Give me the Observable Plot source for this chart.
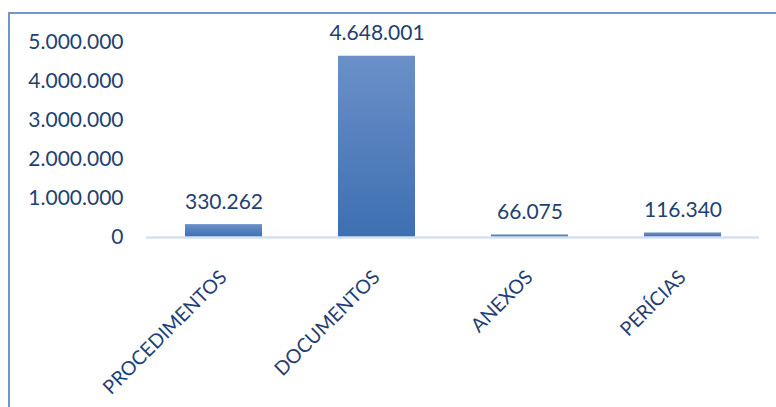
<!DOCTYPE html>
<html>
<head>
<meta charset="utf-8">
<script src="https://cdn.jsdelivr.net/npm/d3@7"></script>
<script src="https://cdn.jsdelivr.net/npm/@observablehq/plot@0.6"></script>
<style>
  html, body { margin: 0; padding: 0; background: #fff; }
  #wrap { position: relative; width: 776px; height: 407px; overflow: hidden; }
  #frame { position: absolute; left: 8px; top: 12px; width: 800px; height: 420px;
           border-left: 2px solid #7197cf; border-top: 2px solid #7197cf; box-sizing: border-box; }
  #chart { position: absolute; left: 0; top: 0; }
</style>
</head>
<body>
<div id="wrap"><div id="frame"></div><div id="chart"></div></div>
<script>
const categories = ["PROCEDIMENTOS", "DOCUMENTOS", "ANEXOS", "PERÍCIAS"];
const values = [330262, 4648001, 66075, 116340];
const yTicks = [0, 1000000, 2000000, 3000000, 4000000, 5000000];

const data = categories.map((c, i) => ({category: c, value: values[i]}));
const fmt = v => d3.format(",")(v).replace(/,/g, ".");
const textColor = "#1f3f73";
const font = "Lato, 'Open Sans', sans-serif";

const plot = Plot.plot({
  width: 776,
  height: 407,
  marginLeft: 146,
  marginRight: 17,
  marginTop: 42,
  marginBottom: 170,
  style: {fontFamily: font, fontSize: "21px", color: textColor, background: "transparent"},
  x: {domain: categories, paddingInner: 0.5, paddingOuter: 0.25, axis: null},
  y: {domain: [0, 5000000], axis: null},
  marks: [
    () => {
      const svg = d3.create("svg:defs");
      const g = svg.append("linearGradient").attr("id", "barGrad")
        .attr("x1", 0).attr("y1", 0).attr("x2", 0).attr("y2", 1);
      g.append("stop").attr("offset", "0%").attr("stop-color", "#6b90c8");
      g.append("stop").attr("offset", "100%").attr("stop-color", "#3d6fb2");
      return svg.node();
    },
    Plot.axisY({ticks: yTicks, tickFormat: fmt, tickSize: 0, tickPadding: 23,
      fill: textColor, fontSize: 21, label: null}),
    Plot.barY(data, {x: "category", y: "value", fill: "url(#barGrad)"}),
    Plot.ruleY([0], {stroke: "#d6e0f1", strokeWidth: 2.5}),
    Plot.text(data, {x: "category", y: "value", text: d => fmt(d.value),
      lineAnchor: "bottom", dy: -16, fill: textColor, fontSize: 21}),
    Plot.text(data, {x: "category", frameAnchor: "bottom", text: "category",
      rotate: -45, textAnchor: "end", lineAnchor: "bottom", dx: 4, dy: 41,
      fill: textColor, fontSize: 19.5})
  ]
});
document.getElementById("chart").appendChild(plot);
</script>
</body>
</html>
